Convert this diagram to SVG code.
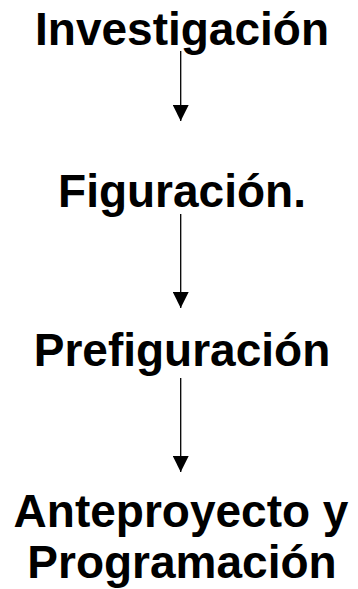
<svg xmlns="http://www.w3.org/2000/svg" width="358" height="589" viewBox="0 0 358 589">
<defs>
<style>
.t{font-family:"Liberation Sans",Arial,sans-serif;font-weight:bold;font-size:46px;fill:#000;text-anchor:middle}
.c{stroke:#000;stroke-width:1.3;fill:none}
</style>
<marker id="ah" markerUnits="userSpaceOnUse" markerWidth="16" markerHeight="16" refX="16" refY="8" orient="auto" viewBox="0 0 16 16">
<path d="M0,0 L16,8 L0,16 Z" fill="#000"/>
</marker>
</defs>
<rect width="358" height="589" fill="#fff"/>
<g id="n1"><text class="t" x="182" y="45">Investigación</text></g>
<g id="n2"><text class="t" x="182" y="207">Figuración.</text></g>
<g id="n3"><text class="t" x="182" y="366">Prefiguración</text></g>
<g id="n4"><text class="t" x="181" y="527">Anteproyecto y</text><text class="t" x="182" y="578">Programación</text></g>
<g id="connectors">
<line class="c" x1="180.7" y1="51" x2="180.7" y2="121" marker-end="url(#ah)"/>
<line class="c" x1="180.7" y1="214" x2="180.7" y2="308" marker-end="url(#ah)"/>
<line class="c" x1="180.7" y1="378" x2="180.7" y2="472" marker-end="url(#ah)"/>
</g>
</svg>
